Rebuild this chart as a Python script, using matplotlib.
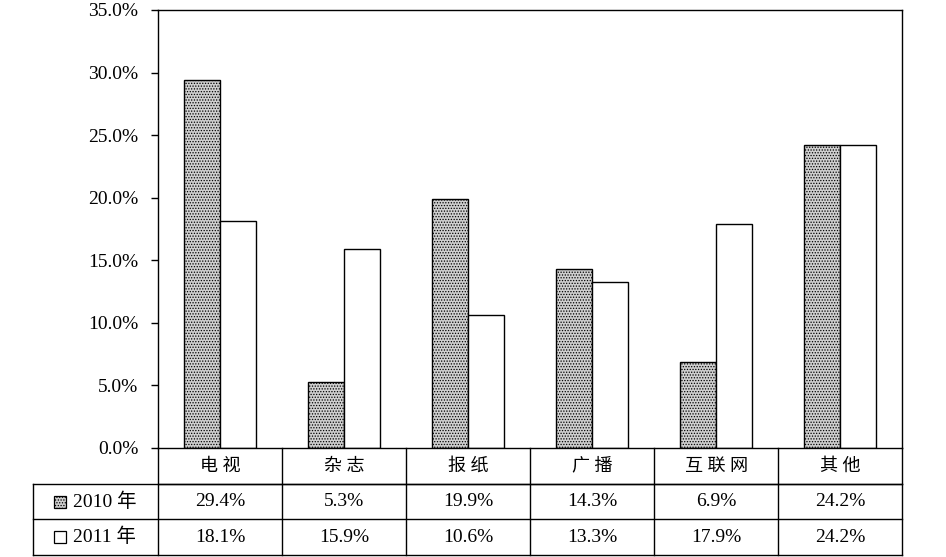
import matplotlib
matplotlib.use("Agg")
import matplotlib.pyplot as plt
import numpy as np
from matplotlib.patches import Rectangle
from matplotlib.transforms import blended_transform_factory

plt.rcParams['font.family'] = ['Liberation Serif', 'Noto Sans CJK SC']
plt.rcParams['hatch.linewidth'] = 0.6
plt.rcParams['hatch.color'] = '#8a8a8a'

categories = ['电视', '杂志', '报纸', '广播', '互联网', '其他']
series_names = ['2010 年', '2011 年']
values_2010 = [29.4, 5.3, 19.9, 14.3, 6.9, 24.2]
values_2011 = [18.1, 15.9, 10.6, 13.3, 17.9, 24.2]
yticks = [0, 5, 10, 15, 20, 25, 30, 35]

fig = plt.figure(figsize=(9.46, 5.57), dpi=100)
ax = fig.add_axes([158/946, 1-448/557, 744/946, 438/557])

n = len(categories)
x = np.arange(n)
w = 0.29
styles = [dict(facecolor='#cfcfcf', hatch='......'), dict(facecolor='white', hatch=None)]
ax.bar(x - w/2, values_2010, width=w, edgecolor='black', linewidth=1.0, **styles[0])
ax.bar(x + w/2, values_2011, width=w, edgecolor='black', linewidth=1.0, **styles[1])

ax.set_xlim(-0.5, n - 0.5)
ax.set_ylim(0, 35)
ax.set_yticks(yticks)
ax.set_yticklabels([f'{v:.1f}%' for v in yticks], fontsize=14)
ax.tick_params(axis='y', direction='out', length=5, width=1, pad=9)
ax.set_xticks([])
for s in ax.spines.values():
    s.set_linewidth(1.0)
    s.set_color('black')

# --- data table drawn below the axes ---
tr = blended_transform_factory(ax.transData, ax.transAxes)
ta = ax.transAxes
row_edges = [0, -36/438, -71/438, -107/438]
left_ax = (33-158)/744
lw = 1.0
line_kw = dict(color='black', linewidth=lw, clip_on=False, solid_capstyle='projecting')

# horizontal lines
ax.plot([-0.5, n - 0.5], [row_edges[1]]*2, transform=tr, **line_kw)
for ye in row_edges[1:]:
    ax.plot([left_ax, 1], [ye, ye], transform=ta, **line_kw)
# vertical lines
for b in np.arange(n + 1) - 0.5:
    ax.plot([b, b], [0, row_edges[-1]], transform=tr, **line_kw)
ax.plot([left_ax, left_ax], [row_edges[1], row_edges[-1]], transform=ta, **line_kw)

# header text (characters slightly spaced, as in the reference)
for i, c in enumerate(categories):
    ax.text(i, (row_edges[0] + row_edges[1]) / 2, ' '.join(c),
            transform=tr, ha='center', va='center', fontsize=13)

# cell text
for r, vals in enumerate([values_2010, values_2011]):
    yc = (row_edges[r + 1] + row_edges[r + 2]) / 2
    for i, v in enumerate(vals):
        ax.text(i, yc, f'{v:.1f}%', transform=tr, ha='center', va='center', fontsize=14)
    ax.text((73-158)/744, yc, series_names[r], transform=ta, ha='left', va='center',
            fontsize=14)
    key_h = 12/438
    key_w = 12/744
    ax.add_patch(Rectangle(((54-158)/744, yc - key_h/2), key_w, key_h, transform=ta,
                           edgecolor='black', linewidth=0.9, clip_on=False, **styles[r]))

fig.savefig('out.png', dpi=100)
